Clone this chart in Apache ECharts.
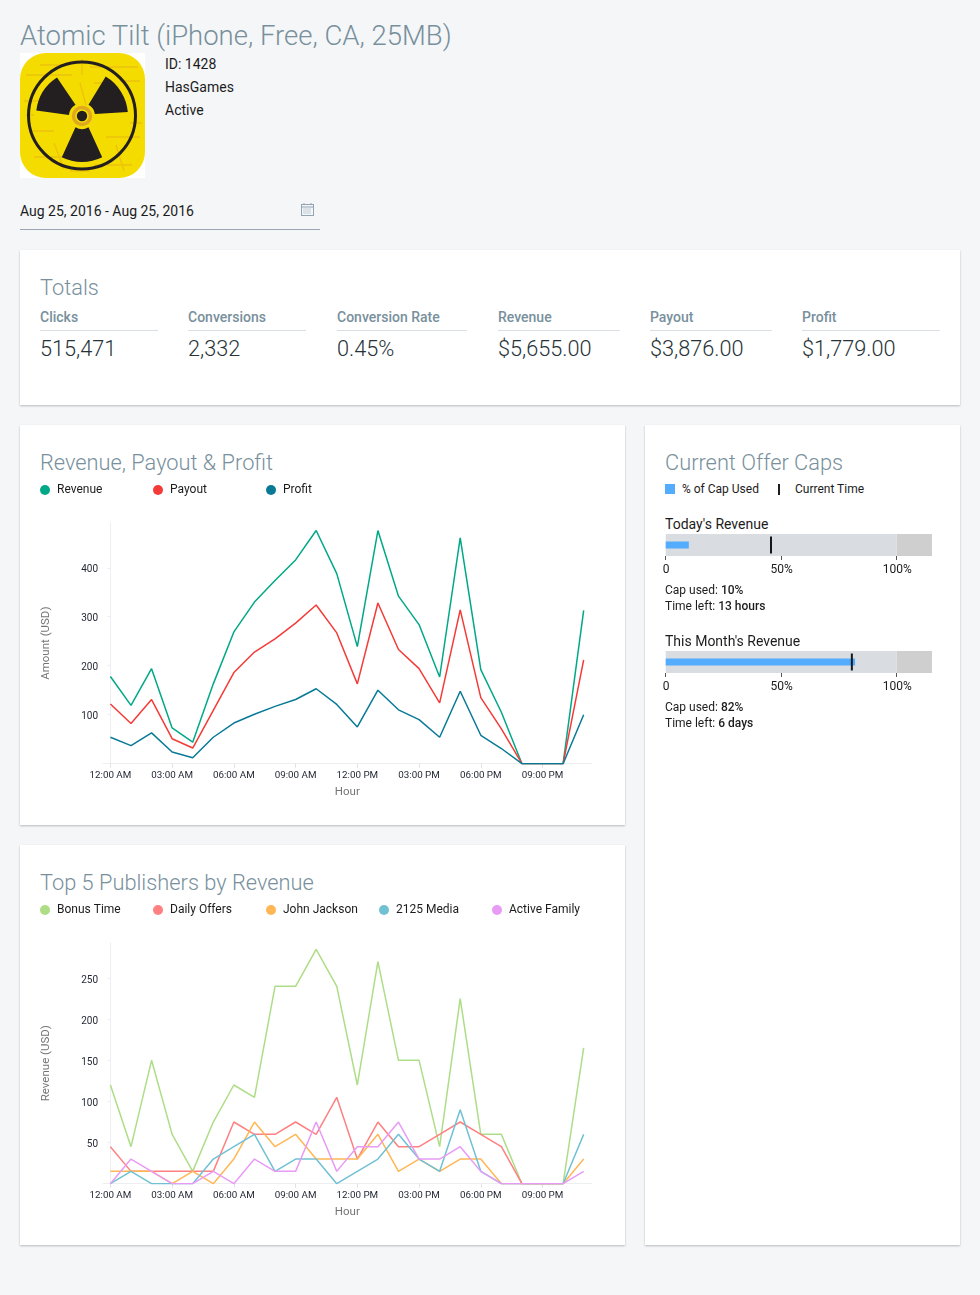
<!DOCTYPE html>
<html>
<head>
<meta charset="utf-8">
<title>Atomic Tilt</title>
<script src="https://cdn.jsdelivr.net/npm/echarts@6/dist/echarts.min.js"></script>
<style>
html,body{margin:0;padding:0;background:#f5f6f8;font-family:Roboto,sans-serif;color:#1c1c1c}
body{position:relative;width:980px;height:1295px;overflow:hidden}
.t{position:absolute;white-space:nowrap;font-size:14px;line-height:20px}
.light{font-weight:300;color:#78909c}
.head{font-size:21.8px;line-height:30px}
.card{position:absolute;background:#fff;box-shadow:0 1px 2px rgba(0,0,0,.25)}
.chart{position:absolute}
.rule{position:absolute;height:1px;background:#d9dfe5}
b{font-weight:500}
</style>
</head>
<body>
<div class="t light" style="left:20px;top:16px;font-size:27.5px;line-height:40px">Atomic Tilt (iPhone, Free, CA, 25MB)</div>

<svg style="position:absolute;left:20px;top:53px" width="125" height="125" viewBox="0 0 125 125">
  <rect width="125" height="125" fill="#fff"/>
  <rect width="125" height="125" rx="26" fill="#f5dc00"/>
  <g stroke="#e2a51c" stroke-width="1.4" opacity=".45" fill="none">
    <path d="M6 22H52M70 14H118M4 48H20M78 40L92 60M10 78H34M86 84H120M14 104H60M74 112H112M60 30L66 52M34 90L44 116M96 92L104 118M62 6V22M20 12H44M100 28H120M6 62H14M110 70H122M50 118H70M74 30H84"/>
  </g>
  <circle cx="62" cy="62.5" r="53.5" fill="none" stroke="#231f20" stroke-width="3"/>
  <g fill="#231f20">
    <path d="M68.5 74.3L82.2 104.3A46 46 0 0 1 41.8 104.3L55.5 74.3A13 13 0 0 0 68.5 74.3Z"/>
    <path d="M68.5 51.7L85.7 23.6A46 46 0 0 1 107.8 59L74.9 61A13 13 0 0 0 68.5 51.7Z"/>
    <path d="M49 62L16.3 57.4A46 46 0 0 1 37 24.4L55.5 51.7A13 13 0 0 0 49 62Z"/>
    <circle cx="62" cy="63" r="5.2"/>
  </g>
  <circle cx="62" cy="63" r="8.5" fill="none" stroke="#e0a81e" stroke-width="3.4"/>
</svg>
<div class="t" style="left:165px;top:54px">ID: 1428</div>
<div class="t" style="left:165px;top:77px">HasGames</div>
<div class="t" style="left:165px;top:100px">Active</div>

<div class="t" style="left:20px;top:201px">Aug 25, 2016 - Aug 25, 2016</div>
<svg style="position:absolute;left:301px;top:203px" width="13" height="13" viewBox="0 0 13 13" fill="none" stroke="#93a4b5" stroke-width="1">
  <rect x=".5" y="1.5" width="12" height="11"/>
  <path d="M.5 4H12.5M3 0V2M10 0V2"/>
  <path d="M2.5 6H10.5M2.5 8H10.5M2.5 10H10.5" stroke-dasharray="1 1"/>
</svg>
<div class="rule" style="left:20px;top:229px;width:300px;background:#9aa5b1"></div>

<div class="card" style="left:20px;top:250px;width:940px;height:155px"></div>
<div class="t light head" style="left:40px;top:273px">Totals</div>
<div id="totals"></div>

<div class="card" style="left:20px;top:425px;width:605px;height:400px"></div>
<div class="t light head" style="left:40px;top:448px">Revenue, Payout &amp; Profit</div>
<div class="chart" id="revenueChart" style="left:20px;top:425px;width:605px;height:400px"></div>

<div class="card" style="left:20px;top:845px;width:605px;height:400px"></div>
<div class="t light head" style="left:40px;top:868px">Top 5 Publishers by Revenue</div>
<div class="chart" id="publisherChart" style="left:20px;top:845px;width:605px;height:400px"></div>

<div class="card" style="left:645px;top:425px;width:315px;height:820px"></div>
<div class="t light head" style="left:665px;top:448px">Current Offer Caps</div>
<div style="position:absolute;left:665px;top:484px;width:10px;height:10px;background:#54acff"></div>
<div class="t" style="left:682px;top:479px;font-size:12px">% of Cap Used</div>
<div style="position:absolute;left:778px;top:484px;width:1.5px;height:11px;background:#1c1c1c"></div>
<div class="t" style="left:795px;top:479px;font-size:12px">Current Time</div>
<div id="caps"></div>

<script>
// totals row
var totalNames = ['Clicks', 'Conversions', 'Conversion Rate', 'Revenue', 'Payout', 'Profit'];
var totalValues = ['515,471', '2,332', '0.45%', '$5,655.00', '$3,876.00', '$1,779.00'];

// hourly axis
var hours = [0,1,2,3,4,5,6,7,8,9,10,11,12,13,14,15,16,17,18,19,20,21,22,23];
var hourTicks = [0,3,6,9,12,15,18,21];
var hourLabels = ['12:00 AM','03:00 AM','06:00 AM','09:00 AM','12:00 PM','03:00 PM','06:00 PM','09:00 PM'];

// revenue chart
var revenueValues = [178,119,194,73,44,163,269,330,374,416,476,388,239,476,342,284,177,461,192,105,0,0,0,313];
var payoutValues = [122,82,131,51,32,109,186,228,255,287,324,267,163,328,233,194,124,314,135,71,0,0,0,212];
var profitValues = [54,37,63,24,12,54,83,101,117,131,153,121,75,150,110,90,54,148,58,31,0,0,0,100];
var amountTicks = [100,200,300,400];

// publishers chart
var bonusTime = [120,45,150,60,15,75,120,105,240,240,285,240,120,270,150,150,45,225,60,60,0,0,0,165];
var dailyOffers = [45,15,15,15,15,15,75,60,60,75,60,105,30,75,45,45,60,75,60,45,0,0,0,null];
var johnJackson = [15,15,15,0,15,0,30,75,45,60,30,30,30,60,15,30,15,30,30,0,0,0,0,30];
var media2125 = [0,15,0,0,0,30,45,60,15,30,30,0,15,30,60,30,15,90,15,0,0,0,0,60];
var activeFamily = [0,30,15,0,0,15,0,30,15,15,75,15,45,45,75,30,30,45,15,0,0,0,0,15];
var publisherTicks = [50,100,150,200,250];

// caps
var capNames = ["Today's Revenue", "This Month's Revenue"];
var capUsed = [10, 82];
var capTime = [45.6, 80.6];
var capRanges = [100, 15.3];
var capLeft = ['13 hours', '6 days'];
var capTicks = [0, 50, 100];
var capTickLabels = ['0', '50%', '100%'];

var font = 'Roboto';

var totalsBox = document.getElementById('totals');
var totalX = [40, 188, 337, 498, 650, 802];
var totalW = [118, 118, 130, 122, 122, 138];
totalNames.forEach(function (name, i) {
  totalsBox.insertAdjacentHTML('beforeend',
    '<div class="t" style="left:' + totalX[i] + 'px;top:307px;color:#78909c;font-weight:500">' + name + '</div>' +
    '<div class="rule" style="left:' + totalX[i] + 'px;top:330px;width:' + totalW[i] + 'px"></div>' +
    '<div class="t" style="left:' + totalX[i] + 'px;top:334px;font-size:21.7px;line-height:30px;font-weight:300;color:#263238">' + totalValues[i] + '</div>');
});

function lineChart(id, yName, yMax, yTicks, names, colors, values) {
  var chart = echarts.init(document.getElementById(id));
  chart.setOption({
    animation: false,
    textStyle: { fontFamily: font },
    color: colors,
    // one legend per item, they sit on a fixed 113px step
    legend: names.map(function (name, i) {
      return {
        left: 20 + i * 113,
        top: 59,
        padding: 0,
        itemWidth: 10,
        itemHeight: 10,
        icon: 'circle',
        selectedMode: false,
        data: [name],
        textStyle: { fontFamily: font, fontSize: 12, color: '#1c1c1c', padding: [0, 0, 0, 2] }
      };
    }),
    grid: { left: 83, top: 97.7, width: 488.7, height: 241 },
    xAxis: {
      type: 'value',
      min: -0.36,
      max: 23.39,
      name: 'Hour',
      nameLocation: 'middle',
      nameGap: 22,
      nameTextStyle: { color: '#757575', fontSize: 11.5, fontFamily: font },
      splitLine: { show: false },
      axisLine: { show: true, lineStyle: { color: '#eceef0' } },
      axisTick: { show: true, length: 4, customValues: hourTicks, lineStyle: { color: '#dfe2e5' } },
      axisLabel: {
        customValues: hourTicks,
        margin: 6.5,
        fontSize: 9.8,
        color: '#1f2430',
        fontFamily: font,
        formatter: function (v) { return hourLabels[hourTicks.indexOf(v)]; }
      }
    },
    yAxis: {
      type: 'value',
      min: 0,
      max: yMax,
      name: yName,
      nameLocation: 'middle',
      nameGap: 51,
      nameTextStyle: { color: '#757575', fontSize: 11.5, fontFamily: font },
      splitLine: { show: false },
      axisLine: { show: true, lineStyle: { color: '#eceef0' } },
      axisTick: { show: true, length: 3, customValues: yTicks, lineStyle: { color: '#eceef0' } },
      axisLabel: { customValues: yTicks, margin: 5, fontSize: 10, color: '#1f2430', fontFamily: font, verticalAlign: 'top', lineHeight: 4 }
    },
    series: names.map(function (name, s) {
      return {
        name: name,
        type: 'line',
        symbol: 'none',
        lineStyle: { width: 1.5 },
        data: hours.map(function (h, i) { return [h, values[s][i]]; })
      };
    })
  });
}

lineChart('revenueChart', 'Amount (USD)', 492, amountTicks,
  ['Revenue', 'Payout', 'Profit'],
  ['#00a887', '#f33b38', '#087a96'],
  [revenueValues, payoutValues, profitValues]);

lineChart('publisherChart', 'Revenue (USD)', 293, publisherTicks,
  ['Bonus Time', 'Daily Offers', 'John Jackson', '2125 Media', 'Active Family'],
  ['#aedd87', '#ff8080', '#ffb755', '#70c1d3', '#e89bf5'],
  [bonusTime, dailyOffers, johnJackson, media2125, activeFamily]);

// bullet charts for the caps
var capsBox = document.getElementById('caps');
var capTop = [514, 631];
capNames.forEach(function (name, i) {
  var top = capTop[i];
  capsBox.insertAdjacentHTML('beforeend',
    '<div class="t" style="left:665px;top:' + top + 'px">' + name + '</div>' +
    '<div class="chart" id="cap' + i + '" style="left:645px;top:' + (top + 20) + 'px;width:315px;height:50px"></div>' +
    '<div class="t" style="left:665px;top:' + (top + 66) + 'px;font-size:12px">Cap used: <b>' + capUsed[i] + '%</b></div>' +
    '<div class="t" style="left:665px;top:' + (top + 82) + 'px;font-size:12px">Time left: <b>' + capLeft[i] + '</b></div>');
  var chart = echarts.init(document.getElementById('cap' + i));
  chart.setOption({
    animation: false,
    grid: { left: 20.7, top: 0, width: 266.3, height: 22 },
    xAxis: {
      type: 'value',
      min: 0,
      max: capRanges[0] + capRanges[1],
      splitLine: { show: false },
      axisLine: { show: false },
      axisTick: { show: true, length: 4, customValues: capTicks, lineStyle: { color: '#555' } },
      axisLabel: {
        customValues: capTicks,
        margin: 7.5,
        fontSize: 12,
        color: '#1c1c1c',
        fontFamily: font,
        padding: [0, 0, 0, 1],
        formatter: function (v) { return capTickLabels[capTicks.indexOf(v)]; }
      }
    },
    yAxis: [
      { type: 'category', show: false, data: [name] },
      { type: 'category', show: false, data: [name] }
    ],
    series: [
      { type: 'bar', stack: 'range', yAxisIndex: 0, barWidth: 22, itemStyle: { color: '#d9dce0' }, data: [capRanges[0]] },
      { type: 'bar', stack: 'range', yAxisIndex: 0, barWidth: 22, itemStyle: { color: '#cfcfcf' }, data: [capRanges[1]] },
      { type: 'bar', yAxisIndex: 1, barWidth: 7, itemStyle: { color: '#54acff' }, data: [capUsed[i]] },
      { type: 'scatter', yAxisIndex: 1, symbol: 'rect', symbolSize: [2, 17], itemStyle: { color: '#14181c', opacity: 1 }, data: [[capTime[i], name]] }
    ]
  });
});
</script>
</body>
</html>
